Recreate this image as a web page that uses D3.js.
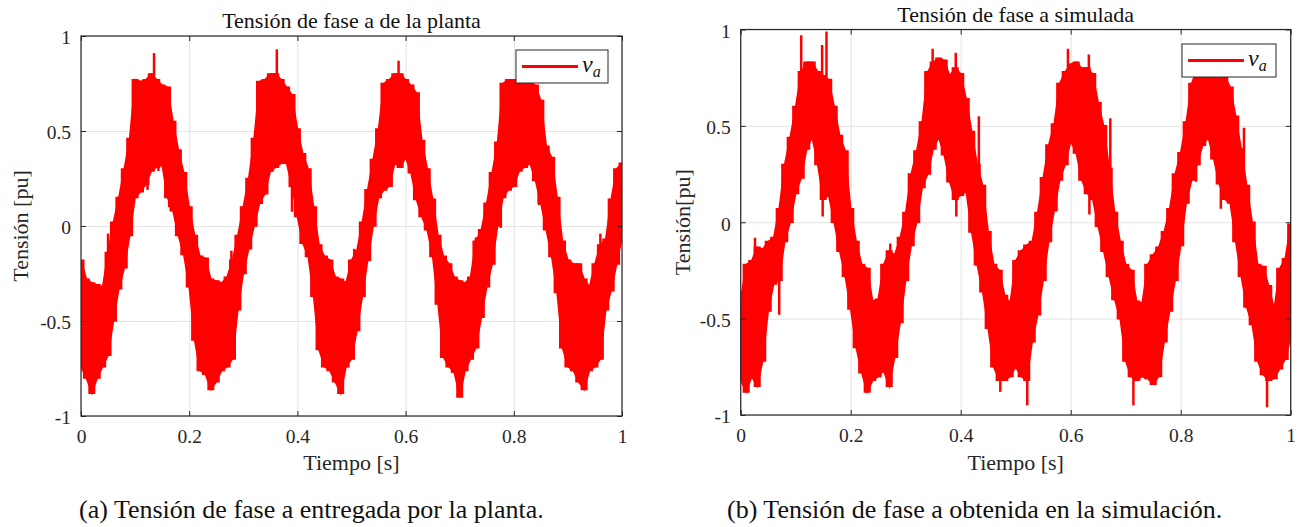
<!DOCTYPE html>
<html>
<head>
<meta charset="utf-8">
<script src="https://cdn.jsdelivr.net/npm/d3@7"></script>
<style>
  html, body { margin: 0; padding: 0; background: #fff; }
  svg { display: block; }
</style>
</head>
<body>
<svg id="fig" width="1300" height="527"></svg>
<script>
// Phase-a voltage, sampled every 10 ms: upper and lower edge of the ripple band (pu)
const sampleStep = 0.01;

const plantUpper = [
  -0.18, -0.28, -0.30, -0.31, -0.32, -0.14, 0.02, 0.15, 0.30, 0.46,
   0.77, 0.76, 0.77, 0.80, 0.77, 0.74, 0.73, 0.55, 0.40, 0.28,
   0.10, -0.05, -0.16, -0.17, -0.28, -0.29, -0.30, -0.27, -0.18, -0.05,
   0.10, 0.25, 0.46, 0.76, 0.77, 0.80, 0.80, 0.77, 0.73, 0.69,
   0.51, 0.38, 0.30, 0.10, -0.10, -0.16, -0.18, -0.27, -0.28, -0.30,
  -0.18, -0.13, 0.02, 0.19, 0.35, 0.51, 0.75, 0.77, 0.80, 0.80,
   0.77, 0.74, 0.70, 0.45, 0.30, 0.14, -0.05, -0.16, -0.20, -0.27,
  -0.29, -0.30, -0.27, -0.08, -0.02, 0.12, 0.28, 0.44, 0.75, 0.77,
   0.77, 0.77, 0.77, 0.76, 0.74, 0.66, 0.42, 0.36, 0.15, -0.08,
  -0.18, -0.20, -0.20, -0.28, -0.32, -0.20, -0.10, -0.07, 0.14, 0.30,
   0.33
];
const plantLower = [
  -0.74, -0.80, -0.88, -0.80, -0.74, -0.68, -0.50, -0.33, -0.22, -0.05,
   0.15, 0.18, 0.22, 0.29, 0.31, 0.32, 0.15, 0.08, -0.05, -0.15,
  -0.32, -0.60, -0.76, -0.78, -0.86, -0.82, -0.76, -0.74, -0.70, -0.44,
  -0.25, -0.12, 0.00, 0.12, 0.17, 0.29, 0.31, 0.33, 0.33, 0.21,
   0.05, -0.09, -0.16, -0.37, -0.65, -0.74, -0.76, -0.82, -0.88, -0.74,
  -0.70, -0.55, -0.37, -0.18, 0.00, 0.15, 0.19, 0.21, 0.33, 0.31,
   0.36, 0.28, 0.14, 0.05, -0.02, -0.16, -0.41, -0.69, -0.74, -0.77,
  -0.90, -0.76, -0.70, -0.64, -0.48, -0.32, -0.20, 0.00, 0.15, 0.19,
   0.21, 0.29, 0.31, 0.33, 0.24, 0.12, -0.02, -0.16, -0.35, -0.64,
  -0.74, -0.76, -0.82, -0.86, -0.76, -0.74, -0.70, -0.44, -0.34, -0.20,
  -0.06
];
// isolated transients: time (s) and peak value (pu)
const plantSpikeT = [0.050, 0.123, 0.135, 0.143, 0.163, 0.278, 0.362, 0.390, 0.505,
                     0.587, 0.618, 0.669, 0.730, 0.776, 0.847, 0.960];
const plantSpikeV = [-0.04, 0.19, 0.91, 0.29, 0.10, -0.13, 0.93, 0.075, -0.12,
                     0.87, 0.14, -0.27, -0.06, -0.01, 0.11, -0.04];

const simUpper = [
  -0.40, -0.22, -0.20, -0.13, -0.14, -0.10, -0.08, 0.07, 0.30, 0.44,
   0.60, 0.78, 0.83, 0.83, 0.78, 0.76, 0.74, 0.60, 0.45, 0.37,
   0.07, -0.10, -0.22, -0.24, -0.41, -0.40, -0.22, -0.15, -0.17, -0.08,
   0.05, 0.25, 0.37, 0.52, 0.78, 0.83, 0.85, 0.84, 0.76, 0.80,
   0.77, 0.64, 0.47, 0.30, 0.19, -0.05, -0.22, -0.25, -0.38, -0.42,
  -0.20, -0.15, -0.12, -0.10, 0.05, 0.23, 0.40, 0.51, 0.72, 0.78,
   0.82, 0.83, 0.80, 0.80, 0.77, 0.62, 0.50, 0.28, 0.05, -0.10,
  -0.22, -0.25, -0.41, -0.42, -0.22, -0.17, -0.13, -0.05, 0.07, 0.25,
   0.36, 0.52, 0.72, 0.80, 0.82, 0.83, 0.82, 0.80, 0.76, 0.70,
   0.55, 0.38, 0.19, 0.00, -0.22, -0.23, -0.33, -0.45, -0.24, -0.19,
  -0.01
];
const simLower = [
  -0.82, -0.88, -0.80, -0.85, -0.72, -0.46, -0.32, -0.30, -0.10, 0.00,
   0.15, 0.23, 0.38, 0.44, 0.30, 0.12, 0.14, 0.00, -0.15, -0.28,
  -0.45, -0.65, -0.78, -0.88, -0.82, -0.80, -0.77, -0.85, -0.70, -0.52,
  -0.30, -0.12, 0.00, 0.18, 0.25, 0.38, 0.44, 0.35, 0.21, 0.12,
   0.14, 0.16, -0.05, -0.22, -0.36, -0.55, -0.75, -0.82, -0.82, -0.80,
  -0.75, -0.80, -0.82, -0.62, -0.48, -0.30, -0.10, 0.06, 0.22, 0.30,
   0.42, 0.36, 0.22, 0.15, 0.12, -0.02, -0.15, -0.28, -0.40, -0.50,
  -0.72, -0.80, -0.82, -0.80, -0.81, -0.84, -0.80, -0.62, -0.46, -0.30,
  -0.12, 0.10, 0.22, 0.30, 0.40, 0.44, 0.33, 0.20, 0.12, 0.10,
  -0.10, -0.28, -0.44, -0.53, -0.72, -0.79, -0.82, -0.81, -0.76, -0.71,
  -0.60
];
const simSpikeT = [0.026, 0.070, 0.110, 0.148, 0.149, 0.156, 0.163, 0.272, 0.349, 0.391,
                   0.392, 0.433, 0.452, 0.472, 0.521, 0.595, 0.633, 0.634, 0.672, 0.714,
                   0.828, 0.873, 0.915, 0.957];
const simSpikeV = [-0.08, -0.48, 0.97, 0.92, 0.03, 0.99, 0.11, -0.11, 0.90, 0.88,
                   0.03, 0.55, -0.08, -0.88, -0.95, 0.90, 0.87, 0.04, 0.54, -0.95,
                   0.21, 0.07, 0.49, -0.96];

const xTicks = [0, 0.2, 0.4, 0.6, 0.8, 1];
const xTickLabels = ["0", "0.2", "0.4", "0.6", "0.8", "1"];
const yTicks = [-1, -0.5, 0, 0.5, 1];
const yTickLabels = ["-1", "-0.5", "0", "0.5", "1"];

const panels = [
  {
    title: "Tensión de fase a de la planta", ylabel: "Tensión [pu]",
    caption: "(a) Tensión de fase a entregada por la planta.",
    upper: plantUpper, lower: plantLower, spikeT: plantSpikeT, spikeV: plantSpikeV,
    left: 81, right: 622, top: 36, bottom: 416,
    titleY: 28, ylabelX: 28, captionX: 79,
    legend: { x: 516, y: 50, w: 92, h: 33 }
  },
  {
    title: "Tensión de fase a simulada", ylabel: "Tensión[pu]",
    caption: "(b) Tensión de fase a obtenida en la simulación.",
    upper: simUpper, lower: simLower, spikeT: simSpikeT, spikeV: simSpikeV,
    left: 740.7, right: 1290.7, top: 29.5, bottom: 415,
    titleY: 22, ylabelX: 690, captionX: 727,
    legend: { x: 1182, y: 44, w: 94, h: 33 }
  }
];

const FONT = "'Liberation Serif', 'Times New Roman', Tinos, Times";
const svg = d3.select("#fig");
const RED = "#ff0000";
const AXIS = "#262626";
const GRID = "#e3e3e3";

const addText = (sel, size) => sel.append("text")
  .style("font-family", FONT).attr("font-size", size).attr("fill", AXIS);

panels.forEach((p, pi) => {
  const x = d3.scaleLinear().domain([0, 1]).range([p.left, p.right]);
  const y = d3.scaleLinear().domain([-1, 1]).range([p.bottom, p.top]);
  const w = p.right - p.left, h = p.bottom - p.top;
  const g = svg.append("g");

  const clipId = "clip" + pi;
  g.append("clipPath").attr("id", clipId)
    .append("rect").attr("x", p.left).attr("y", p.top).attr("width", w).attr("height", h);

  // grid
  g.append("g").attr("transform", `translate(0,${p.bottom})`)
    .call(d3.axisBottom(x).tickValues(xTicks).tickSize(-h).tickFormat(""))
    .call(s => s.select(".domain").remove())
    .call(s => s.selectAll("line").attr("stroke", GRID).attr("stroke-width", 1));
  g.append("g").attr("transform", `translate(${p.left},0)`)
    .call(d3.axisLeft(y).tickValues(yTicks).tickSize(-w).tickFormat(""))
    .call(s => s.select(".domain").remove())
    .call(s => s.selectAll("line").attr("stroke", GRID).attr("stroke-width", 1));

  // ripple band: stepped edges follow the sampled extremes, linear fill keeps the slopes solid
  const samples = p.upper.map((u, i) => ({ t: i * sampleStep, hi: u, lo: p.lower[i] }));
  const plot = g.append("g").attr("clip-path", `url(#${clipId})`);
  [d3.curveLinear, d3.curveStep].forEach(curve => {
    plot.append("path").datum(samples)
      .attr("d", d3.area().curve(curve)
        .x(d => x(d.t)).y0(d => y(d.lo)).y1(d => y(d.hi)))
      .attr("fill", RED).attr("stroke", RED).attr("stroke-width", 1.6)
      .attr("stroke-linejoin", "miter");
  });

  // transients
  const spikes = p.spikeT.map((t, i) => {
    const s = samples[Math.round(t / sampleStep)];
    return { t, v: p.spikeV[i], base: (s.hi + s.lo) / 2 };
  });
  plot.selectAll("line.spike").data(spikes).join("line")
    .attr("class", "spike")
    .attr("x1", d => x(d.t)).attr("x2", d => x(d.t))
    .attr("y1", d => y(d.base)).attr("y2", d => y(d.v))
    .attr("stroke", RED).attr("stroke-width", 2.5);

  // axes with inward ticks on all four sides
  const styleAxis = s => {
    s.select(".domain").remove();
    s.selectAll("line").attr("stroke", AXIS);
    s.selectAll("text").attr("font-size", 19.5).attr("fill", AXIS).style("font-family", FONT);
  };
  g.append("g").attr("transform", `translate(0,${p.bottom})`)
    .call(d3.axisBottom(x).tickValues(xTicks).tickSize(-5).tickPadding(13)
      .tickFormat((d, i) => xTickLabels[i]))
    .call(styleAxis);
  g.append("g").attr("transform", `translate(0,${p.top})`)
    .call(d3.axisTop(x).tickValues(xTicks).tickSize(-5).tickFormat(""))
    .call(styleAxis);
  g.append("g").attr("transform", `translate(${p.left},0)`)
    .call(d3.axisLeft(y).tickValues(yTicks).tickSize(-5).tickPadding(10)
      .tickFormat((d, i) => yTickLabels[i]))
    .call(styleAxis)
    .call(s => s.selectAll("text").attr("dy", "0.4em"));
  g.append("g").attr("transform", `translate(${p.right},0)`)
    .call(d3.axisRight(y).tickValues(yTicks).tickSize(-5).tickFormat(""))
    .call(styleAxis);

  g.append("rect")
    .attr("x", p.left).attr("y", p.top).attr("width", w).attr("height", h)
    .attr("fill", "none").attr("stroke", AXIS).attr("stroke-width", 1.2);

  // legend
  const L = p.legend;
  const lg = g.append("g");
  lg.append("rect").attr("x", L.x).attr("y", L.y).attr("width", L.w).attr("height", L.h)
    .attr("fill", "#fff").attr("stroke", AXIS).attr("stroke-width", 1);
  lg.append("line")
    .attr("x1", L.x + 6).attr("x2", L.x + 62)
    .attr("y1", L.y + L.h / 2).attr("y2", L.y + L.h / 2)
    .attr("stroke", RED).attr("stroke-width", 3);
  const lt = addText(lg, 24).attr("x", L.x + 66).attr("y", L.y + L.h / 2 + 5)
    .attr("font-style", "italic").attr("fill", "#111");
  lt.append("tspan").text("v");
  lt.append("tspan").attr("font-size", 16).attr("dy", 5).text("a");

  // titles and labels
  addText(g, 22).attr("x", (p.left + p.right) / 2).attr("y", p.titleY)
    .attr("text-anchor", "middle").attr("fill", "#111").text(p.title);
  addText(g, 22).attr("x", (p.left + p.right) / 2).attr("y", 470)
    .attr("text-anchor", "middle").text("Tiempo [s]");
  addText(g, 22)
    .attr("transform", `translate(${p.ylabelX},${(p.top + p.bottom) / 2}) rotate(-90)`)
    .attr("text-anchor", "middle").text(p.ylabel);
  addText(svg, 26).attr("x", p.captionX).attr("y", 518)
    .attr("fill", "#111").text(p.caption);
});
</script>
</body>
</html>
